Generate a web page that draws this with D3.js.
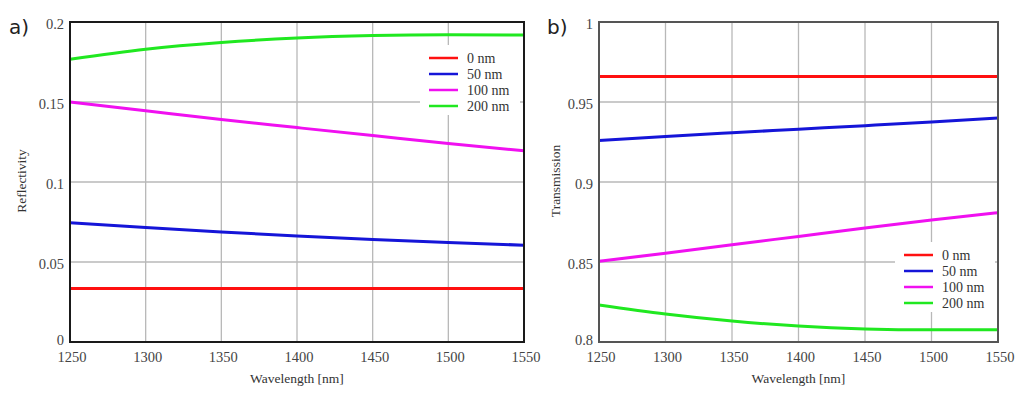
<!DOCTYPE html>
<html>
<head>
<meta charset="utf-8">
<script src="https://cdn.jsdelivr.net/npm/d3@7"></script>
<style>
  body { margin: 0; background: #fff; }
  svg { display: block; }
  .tick-label { font-family: "Liberation Serif", serif; font-size: 14.5px; fill: #444; }
  .axis-title { font-family: "Liberation Serif", serif; font-size: 13.5px; fill: #333; }
  .panel-label { font-family: "DejaVu Sans", sans-serif; font-size: 20px; fill: #222; }
  .legend-text { font-family: "Liberation Serif", serif; font-size: 14px; fill: #333; }
</style>
</head>
<body>
<svg width="1024" height="397"></svg>
<script>
// data
const wavelengths = [1250, 1300, 1350, 1400, 1450, 1500, 1550];
const seriesNames = ["0 nm", "50 nm", "100 nm", "200 nm"];
const seriesColors = ["#ff1010", "#1515d8", "#f010f0", "#20e820"];

const reflect0 = [0.0335, 0.0335, 0.0335, 0.0335, 0.0335, 0.0335, 0.0335];
const reflect50 = [0.0745, 0.0715, 0.0688, 0.0663, 0.0641, 0.0622, 0.0605];
const reflect100 = [0.150, 0.1445, 0.139, 0.134, 0.129, 0.124, 0.1195];
const reflect200 = [0.1767, 0.1830, 0.1872, 0.1900, 0.1915, 0.1920, 0.1918];

const trans0 = [0.966, 0.966, 0.966, 0.966, 0.966, 0.966, 0.966];
const trans50 = [0.926, 0.9285, 0.9308, 0.9330, 0.9352, 0.9375, 0.940];
const trans100 = [0.8505, 0.8555, 0.8608, 0.8660, 0.8712, 0.8762, 0.8808];
const trans200 = [0.8231, 0.8175, 0.8131, 0.8100, 0.8082, 0.8076, 0.8077];

const xTicks = [1250, 1300, 1350, 1400, 1450, 1500, 1550];
const reflectTicks = [0, 0.05, 0.1, 0.15, 0.2];
const reflectTickLabels = ["0", "0.05", "0.1", "0.15", "0.2"];
const transTicks = [0.8, 0.85, 0.9, 0.95, 1];
const transTickLabels = ["0.8", "0.85", "0.9", "0.95", "1"];

var svg = d3.select("svg");

function drawPanel(opt) {
    var x = d3.scaleLinear().domain([1250, 1550]).range([opt.left, opt.right]);
    var y = d3.scaleLinear().domain(opt.yDomain).range([342, 22]);
    var g = svg.append("g");

    // grid
    g.selectAll(".vgrid").data(xTicks.slice(1, -1)).enter().append("line")
        .attr("x1", d => x(d)).attr("x2", d => x(d))
        .attr("y1", 22).attr("y2", 342)
        .attr("stroke", "#b8b8b8").attr("stroke-width", 1.3);
    g.selectAll(".hgrid").data(opt.yTicks.slice(1, -1)).enter().append("line")
        .attr("x1", opt.left).attr("x2", opt.right)
        .attr("y1", d => y(d)).attr("y2", d => y(d))
        .attr("stroke", "#b8b8b8").attr("stroke-width", 1.3);

    // legend box (white, hides grid)
    g.append("rect")
        .attr("x", opt.legend.x).attr("y", opt.legend.y)
        .attr("width", 100).attr("height", 70)
        .attr("fill", "#fff");

    // lines
    var line = d3.line()
        .x((d, i) => x(wavelengths[i]))
        .y(d => y(d))
        .curve(d3.curveMonotoneX);
    opt.series.forEach((s, i) => {
        g.append("path")
            .attr("d", line(s))
            .attr("fill", "none")
            .attr("stroke", seriesColors[i])
            .attr("stroke-width", 3);
    });

    // frame
    g.append("rect")
        .attr("x", opt.left).attr("y", 22)
        .attr("width", opt.right - opt.left).attr("height", 320)
        .attr("fill", "none")
        .attr("stroke", opt.frame).attr("stroke-width", 2);

    // tick labels
    g.selectAll(".xl").data(xTicks).enter().append("text")
        .attr("class", "tick-label")
        .attr("x", d => x(d) + 2).attr("y", 362)
        .attr("text-anchor", "middle")
        .text(d => d);
    g.selectAll(".yl").data(opt.yTicks).enter().append("text")
        .attr("class", "tick-label")
        .attr("x", opt.left - 6).attr("y", (d, i) => y(d) + (i === 0 ? 3 : 7))
        .attr("text-anchor", "end")
        .text((d, i) => opt.yLabels[i]);

    // axis titles
    g.append("text").attr("class", "axis-title")
        .attr("x", (opt.left + opt.right) / 2).attr("y", 383)
        .attr("text-anchor", "middle")
        .text("Wavelength [nm]");
    g.append("text").attr("class", "axis-title")
        .attr("transform", "translate(" + opt.titleX + ",181) rotate(-90)")
        .attr("text-anchor", "middle")
        .text(opt.yTitle);

    // panel label
    g.append("text").attr("class", "panel-label")
        .attr("x", opt.labelX).attr("y", 34)
        .text(opt.label);

    // legend
    seriesNames.forEach((name, i) => {
        var ly = opt.legend.y + 13 + i * 16;
        g.append("line")
            .attr("x1", opt.legend.x + 9).attr("x2", opt.legend.x + 38)
            .attr("y1", ly).attr("y2", ly)
            .attr("stroke", seriesColors[i]).attr("stroke-width", 2.5);
        g.append("text").attr("class", "legend-text")
            .attr("x", opt.legend.x + 47).attr("y", ly + 5)
            .text(name);
    });
}

drawPanel({
    left: 70, right: 524,
    yDomain: [0, 0.2], yTicks: reflectTicks, yLabels: reflectTickLabels,
    series: [reflect0, reflect50, reflect100, reflect200],
    yTitle: "Reflectivity", titleX: 26,
    label: "a)", labelX: 9,
    legend: { x: 420, y: 45 },
    frame: "#1a1a1a"
});

drawPanel({
    left: 599, right: 998,
    yDomain: [0.8, 1], yTicks: transTicks, yLabels: transTickLabels,
    series: [trans0, trans50, trans100, trans200],
    yTitle: "Transmission", titleX: 560,
    label: "b)", labelX: 547,
    legend: { x: 895, y: 242 },
    frame: "#555"
});
</script>
</body>
</html>
